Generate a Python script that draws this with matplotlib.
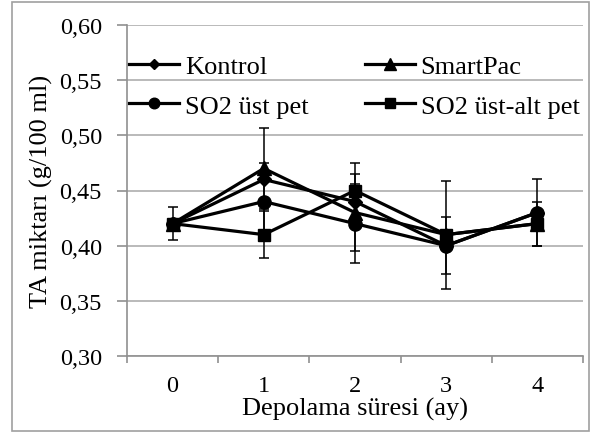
import numpy as np
import matplotlib
matplotlib.use('Agg')
import matplotlib.pyplot as plt
from matplotlib.ticker import FixedLocator, FuncFormatter
from matplotlib.patches import Rectangle

months = [0, 1, 2, 3, 4]
month_labels = ['0', '1', '2', '3', '4']

kontrol = [0.42, 0.46, 0.44, 0.40, 0.43]
smartpac = [0.42, 0.47, 0.43, 0.41, 0.42]
so2_ust = [0.42, 0.44, 0.42, 0.40, 0.43]
so2_ust_alt = [0.42, 0.41, 0.45, 0.41, 0.42]

kontrol_err = [0.015, 0.0, 0.0, 0.026, 0.030]
smartpac_err = [0.0, 0.037, 0.035, 0.049, 0.0]
so2_ust_err = [0.0, 0.035, 0.036, 0.0, 0.0]
so2_ust_alt_err = [0.0, 0.021, 0.025, 0.0, 0.020]

series = [
    ('Kontrol', kontrol, kontrol_err, 'D', 7),
    ('SmartPac', smartpac, smartpac_err, '^', 10),
    ('SO2 üst pet', so2_ust, so2_ust_err, 'o', 9.5),
    ('SO2 üst-alt pet', so2_ust_alt, so2_ust_alt_err, 's', 9),
]

plt.rcParams['font.family'] = ['Liberation Serif', 'DejaVu Serif']
fs_tick = 17.5
fs_lab = 19

fig = plt.figure(figsize=(5.92, 4.35), dpi=100)
ax = fig.add_axes([127 / 592, 1 - 357 / 435, 456 / 592, 331 / 435])

# outer frame
fig.patches.append(Rectangle((12 / 592, 3 / 435), 577 / 592, 429 / 435,
                             transform=fig.transFigure, fill=False,
                             edgecolor='#a0a0a0', linewidth=1.2))

# error bars first, lines and markers on top
for name, vals, err, mk, ms in series:
    ax.errorbar(months, vals, yerr=err, fmt='none', ecolor='black',
                elinewidth=1.1, capsize=3.6, capthick=1.1, zorder=2)
handles = {}
for name, vals, err, mk, ms in series:
    handles[name], = ax.plot(months, vals, color='black', linewidth=2.3, marker=mk,
                             markersize=ms, label=name, zorder=3)

ax.set_xlim(-0.5, 4.5)
ax.set_ylim(0.30, 0.60)
ax.set_yticks(np.arange(0.30, 0.601, 0.05))
ax.yaxis.set_major_formatter(FuncFormatter(lambda v, p: f'{v:.2f}'.replace('.', ',')))
ax.grid(axis='y', color='#b4b4b4', linewidth=1.3, zorder=0)
ax.set_axisbelow(True)

ax.xaxis.set_major_locator(FixedLocator([-0.5, 0.5, 1.5, 2.5, 3.5, 4.5]))
ax.xaxis.set_minor_locator(FixedLocator(months))
ax.set_xticklabels([])
ax.set_xticklabels(month_labels, minor=True)
ax.tick_params(axis='x', which='major', length=5, color='#909090', width=1.2)
ax.tick_params(axis='x', which='minor', length=0, pad=14, labelsize=fs_tick)
ax.tick_params(axis='y', length=7, color='#909090', width=1.2, pad=11, labelsize=fs_tick)

for s in ['top', 'right']:
    ax.spines[s].set_visible(False)
for s in ['left', 'bottom']:
    ax.spines[s].set_color('#909090')
    ax.spines[s].set_linewidth(1.2)

ax.set_xlabel('Depolama süresi (ay)', fontsize=fs_lab, labelpad=0)
ax.set_ylabel('TA miktarı (g/100 ml)', fontsize=fs_lab, labelpad=5)

# legend is filled row by row in the reference
order = ['Kontrol', 'SO2 üst pet', 'SmartPac', 'SO2 üst-alt pet']
ax.legend([handles[k] for k in order], order, loc='upper left',
          bbox_to_anchor=(0.005, 0.91), ncol=2, frameon=False,
          fontsize=fs_lab, handlelength=1.9, handletextpad=0.23, columnspacing=2.1,
          labelspacing=0.6, borderaxespad=0, borderpad=0, markerscale=0.8)

fig.savefig('out.png', dpi=100)
